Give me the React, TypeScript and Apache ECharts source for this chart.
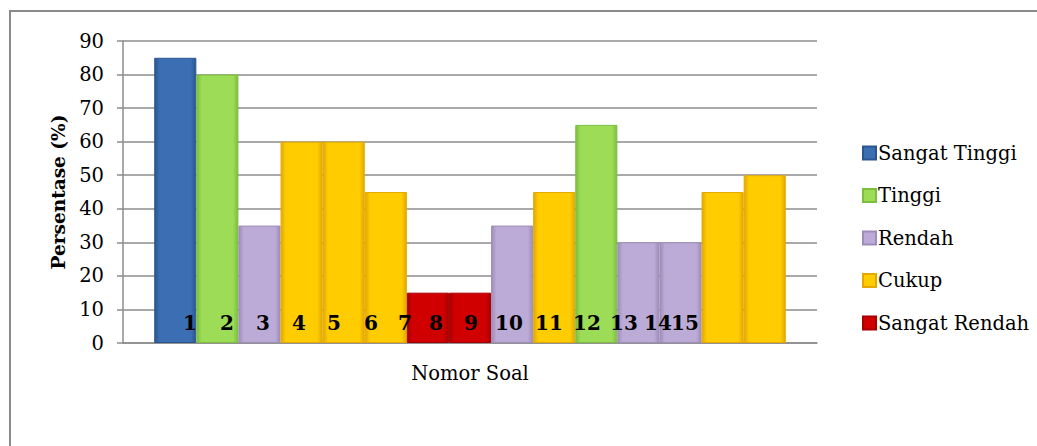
import React, { useEffect, useRef } from "react";
import * as echarts from "echarts";

const questions = ["1", "2", "3", "4", "5", "6", "7", "8", "9", "10", "11", "12", "13", "14", "15"];
const values = [85, 80, 35, 60, 60, 45, 15, 15, 35, 45, 65, 30, 30, 45, 50];
const levels = [
  "Sangat Tinggi", "Tinggi", "Rendah", "Cukup", "Cukup", "Cukup", "Sangat Rendah", "Sangat Rendah",
  "Rendah", "Cukup", "Tinggi", "Rendah", "Rendah", "Cukup", "Cukup",
];
const legendOrder = ["Sangat Tinggi", "Tinggi", "Rendah", "Cukup", "Sangat Rendah"];
const yTicks = [0, 10, 20, 30, 40, 50, 60, 70, 80, 90];

// styling / layout (not data)
const levelColors: Record<string, [string, string]> = {
  "Sangat Tinggi": ["#2B5690", "#3B6EB2"],
  Tinggi: ["#7CBF3E", "#9CDC56"],
  Rendah: ["#9E8DB8", "#BCABD6"],
  Cukup: ["#E3A900", "#FFCC00"],
  "Sangat Rendah": ["#A80000", "#D00000"],
};
const labelX = [190, 227, 263, 299, 334, 371, 405, 436, 471, 509, 549, 587, 624, 658, 685];
const FONT = "DejaVu Serif";

function gradient(level: string) {
  const [edge, mid] = levelColors[level];
  return new echarts.graphic.LinearGradient(0, 0, 1, 0, [
    { offset: 0, color: edge },
    { offset: 0.12, color: mid },
    { offset: 0.88, color: mid },
    { offset: 1, color: edge },
  ]);
}

export default function App() {
  const ref = useRef<HTMLDivElement>(null);
  useEffect(() => {
    if (!ref.current) return;
    const chart = echarts.init(ref.current, undefined, { renderer: "svg" });
    const series = values.map((v, i) => ({
      type: "bar",
      name: levels[i],
      data: [v],
      barGap: "0%",
      barCategoryGap: "9%",
      itemStyle: {
        color: gradient(levels[i]),
        borderColor: levelColors[levels[i]][0],
        borderWidth: 1,
      },
    }));
    chart.setOption({
      animation: false,
      textStyle: { fontFamily: FONT },
      grid: { left: 123, right: 220, top: 41, bottom: 103, containLabel: false },
      legend: {
        data: legendOrder,
        orient: "vertical",
        left: 857,
        top: 136,
        itemWidth: 13,
        itemHeight: 13,
        itemGap: 18.5,
        icon: "rect",
        textStyle: { fontFamily: FONT, fontSize: 19.5, color: "#000", lineHeight: 24, padding: [0, 0, 0, -3] },
      },
      xAxis: {
        type: "category",
        data: ["Nomor Soal"],
        name: "Nomor Soal",
        nameLocation: "middle",
        nameGap: 20,
        nameTextStyle: { fontFamily: FONT, fontSize: 19.5, color: "#000" },
        axisLabel: { show: false },
        axisTick: { show: false },
        axisLine: { lineStyle: { color: "#8c8c8c", width: 1.5 } },
      },
      yAxis: {
        type: "value",
        min: yTicks[0],
        max: yTicks[yTicks.length - 1],
        interval: 10,
        name: "Persentase (%)",
        nameLocation: "middle",
        nameGap: 54,
        nameTextStyle: { fontFamily: FONT, fontSize: 18.5, fontWeight: "bold", color: "#000" },
        axisLine: { show: true, lineStyle: { color: "#8c8c8c", width: 1.5 } },
        axisTick: { show: true, length: 6, lineStyle: { color: "#8c8c8c", width: 1.5 } },
        axisLabel: { margin: 19, fontFamily: FONT, fontSize: 19.5, color: "#000" },
        splitLine: { lineStyle: { color: "#8c8c8c", width: 1.5 } },
      },
      series,
      graphic: [
        {
          type: "rect",
          shape: { x: 10, y: 11, width: 1100, height: 500 },
          style: { fill: "none", stroke: "#8a8a8a", lineWidth: 2 },
          silent: true,
        },
        ...questions.map((q, i) => ({
          type: "text",
          x: labelX[i],
          y: 323,
          z: 100,
          style: {
            text: q,
            fontFamily: FONT,
            fontSize: 20,
            fontWeight: "bold",
            fill: "#000",
            align: "center",
            verticalAlign: "middle",
          },
        })),
      ],
    });
    return () => chart.dispose();
  }, []);
  return (
    <div
      ref={ref}
      style={{ position: "fixed", left: 0, top: 0, width: 1037, height: 446, background: "#fff" }}
    />
  );
}
